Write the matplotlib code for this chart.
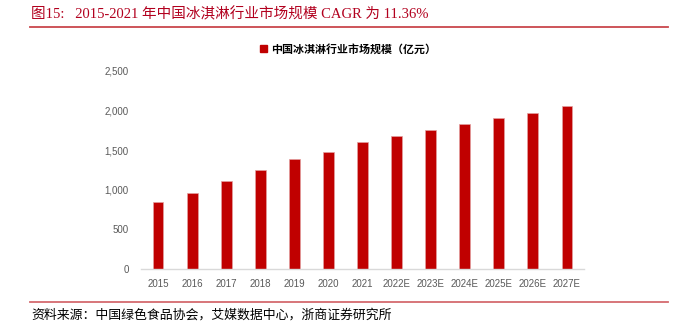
import matplotlib
matplotlib.use("Agg")
import matplotlib.pyplot as plt
from matplotlib.patches import Patch
from matplotlib.ticker import FuncFormatter, MultipleLocator
from matplotlib.lines import Line2D

categories = ["2015", "2016", "2017", "2018", "2019", "2020", "2021",
              "2022E", "2023E", "2024E", "2025E", "2026E", "2027E"]
values = [842, 960, 1111, 1246, 1385, 1474, 1600,
          1674, 1760, 1835, 1911, 1974, 2063]
series_name = "中国冰淇淋行业市场规模（亿元）"
title_text = "图15:   2015-2021 年中国冰淇淋行业市场规模 CAGR 为 11.36%"
source_text = "资料来源：中国绿色食品协会，艾媒数据中心，浙商证券研究所"

plt.rcParams['font.family'] = ['Noto Sans CJK SC', 'DejaVu Sans']

fig = plt.figure(figsize=(6.84, 3.27), dpi=100)
ax = fig.add_axes([141/684, 1-269/327, (584-141)/684, (269-71)/327])

bar_color = "#C00000"
x = range(len(categories))
ax.bar(x, values, width=0.32, color=bar_color, edgecolor="#E3A0A0", linewidth=0.5)

ax.set_xlim(-0.5, len(categories)-0.5)
ax.set_ylim(0, 2500)
ax.yaxis.set_major_locator(MultipleLocator(500))
ax.yaxis.set_major_formatter(FuncFormatter(lambda v, p: f"{int(v):,}"))
ax.set_xticks(list(x))
ax.set_xticklabels(categories)
for s in ["top", "right", "left"]:
    ax.spines[s].set_visible(False)
ax.spines["bottom"].set_color("#D9D9D9")
ax.spines["bottom"].set_linewidth(1.0)
ax.tick_params(axis="both", length=0, labelsize=7, labelcolor="#595959")
ax.tick_params(axis="y", pad=9)
ax.tick_params(axis="x", pad=7)
for lab in ax.get_xticklabels() + ax.get_yticklabels():
    lab.set_family(["Liberation Sans", "DejaVu Sans"])

leg = fig.legend(handles=[Patch(facecolor=bar_color, edgecolor=bar_color)],
                 labels=[series_name], loc="center", bbox_to_anchor=(348/684, 1-49/327),
                 frameon=False, handlelength=0.6, handleheight=0.6,
                 handletextpad=0.4, prop={'family': ['Noto Sans CJK SC'], 'weight': 'bold', 'size': 7.9})

fig.text(31/684, 1-14/327, title_text, color="#B2001E", fontsize=10.5,
         va="center", ha="left", family=["Liberation Serif", "Noto Sans CJK SC"])
fig.add_artist(Line2D([30/684, 668/684], [1-27/327, 1-27/327], color="#C9474C", linewidth=1.3))
fig.add_artist(Line2D([30/684, 668/684], [1-302/327, 1-302/327], color="#D46A6E", linewidth=1.3))
fig.text(31/684, 1-315/327, source_text, color="#000000", fontsize=9.3,
         va="center", ha="left", family=["Noto Sans CJK SC"])

fig.savefig("out.png", dpi=100)
